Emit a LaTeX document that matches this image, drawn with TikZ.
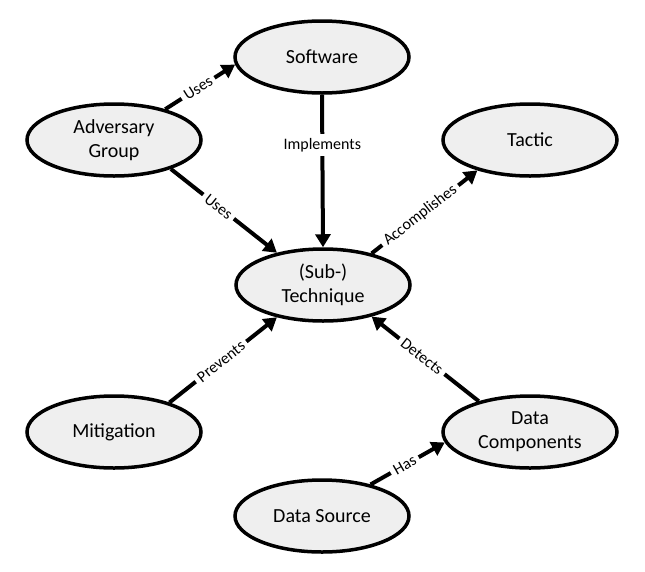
\documentclass[tikz,border=0pt]{standalone}
\usepackage{fontspec}
\setmainfont{Carlito}
\usetikzlibrary{shapes.geometric,arrows.meta}
\definecolor{entfill}{HTML}{EFEFEF}
\begin{document}
\begin{tikzpicture}[x=1pt,y=-1pt,
  ent/.style={ellipse, draw=black, line width=3.5pt, fill=entfill, minimum width=174pt, minimum height=72pt, inner sep=0pt, align=center, font=\fontsize{20}{24}\selectfont},
  rel/.style={line width=4pt, -{Triangle[length=13pt,width=15pt]}},
  lbl/.style={fill=white, inner sep=4pt, font=\fontsize{16}{18}\selectfont}
]
\useasboundingbox (0,0) rectangle (645,571);
\node[ent] (sw)   at (322,57)  {Software};
\node[ent] (adv)  at (114,140) {Adversary\\Group};
\node[ent] (tac)  at (530,140) {Tactic};
\node[ent] (tech) at (323,285) {(Sub-)\\Technique};
\node[ent] (mit)  at (114,432) {Mitigation};
\node[ent] (dc)   at (530,432) {Data\\Components};
\node[ent] (ds)   at (322,516) {Data Source};

\draw[rel] (adv.31) -- node[lbl,sloped,pos=0.47]{Uses} (sw.185);
\draw[rel] (adv.-27) -- node[lbl,sloped,pos=0.45]{Uses} (tech.145);
\draw[rel] (sw.south) -- node[lbl,pos=0.33]{Implements} (tech.north);
\draw[rel] (tech.33) -- node[lbl,sloped,pos=0.46]{Accomplishes} (tac.210);
\draw[rel] (mit.28) -- node[lbl,sloped,pos=0.48]{Prevents} (tech.215);
\draw[rel] (dc.149) -- node[lbl,sloped,pos=0.53]{Detects} (tech.327);
\draw[rel] (ds.33) -- node[lbl,sloped,pos=0.46]{Has} (dc.187);
\end{tikzpicture}
\end{document}
